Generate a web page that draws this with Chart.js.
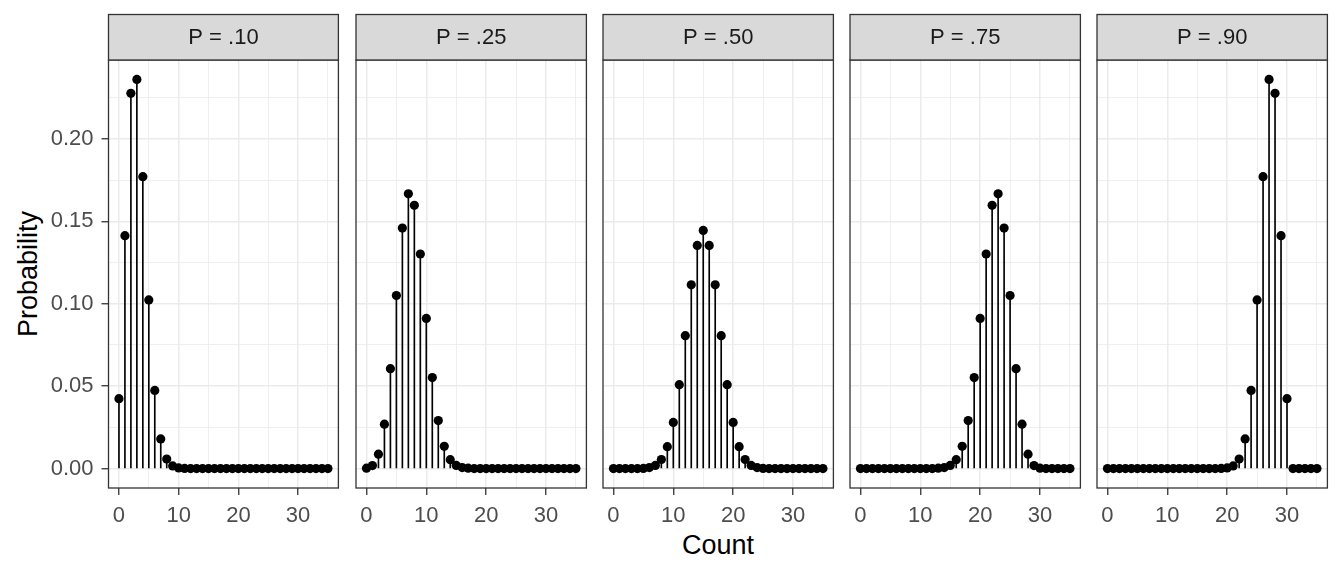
<!DOCTYPE html>
<html>
<head>
<meta charset="utf-8">
<title>Binomial probabilities</title>
<script src="https://cdn.jsdelivr.net/npm/chart.js@4.4.0/dist/chart.umd.min.js"></script>
<style>
  body { margin: 0; background: #fff; width: 1344px; height: 576px; position: relative; overflow: hidden; font-family: "Liberation Sans", Arial, sans-serif; }
  canvas { position: absolute; top: 0; }
  .title { position: absolute; color: #000; font-size: 27px; white-space: nowrap; }
  #ytitle { left: 28px; top: 274px; transform: translate(-50%, -50%) rotate(-90deg); }
  #xtitle { left: 718px; top: 545px; transform: translate(-50%, -50%); }
</style>
</head>
<body>
<div class="title" id="ytitle">Probability</div>
<div class="title" id="xtitle">Count</div>

<script>
// Count values on the x axis (0 .. 35)
const counts = [0,1,2,3,4,5,6,7,8,9,10,11,12,13,14,15,16,17,18,19,20,21,22,23,24,25,26,27,28,29,30,31,32,33,34,35];

// Facet labels
const panelLabels = ["P = .10", "P = .25", "P = .50", "P = .75", "P = .90"];

// Probabilities
const probP10 = [0.0424,0.1413,0.2277,0.2361,0.1771,0.1023,0.0474,0.0180,0.0058,0.0016,0.0004,0.0001,0,0,0,0,0,0,0,0,0,0,0,0,0,0,0,0,0,0,0,0,0,0,0,0];
const probP25 = [0.0002,0.0018,0.0087,0.0269,0.0606,0.1050,0.1459,0.1667,0.1597,0.1302,0.0911,0.0552,0.0291,0.0135,0.0054,0.0019,0.0006,0.0002,0,0,0,0,0,0,0,0,0,0,0,0,0,0,0,0,0,0];
const probP50 = [0,0,0,0,0,0.0001,0.0006,0.0019,0.0055,0.0133,0.0280,0.0509,0.0806,0.1115,0.1354,0.1445,0.1354,0.1115,0.0806,0.0509,0.0280,0.0133,0.0055,0.0019,0.0006,0.0001,0,0,0,0,0,0,0,0,0,0];
const probP75 = [0,0,0,0,0,0,0,0,0,0,0,0,0,0.0002,0.0006,0.0019,0.0054,0.0135,0.0291,0.0552,0.0911,0.1302,0.1597,0.1667,0.1459,0.1050,0.0606,0.0269,0.0087,0.0018,0.0002,0,0,0,0,0];
const probP90 = [0,0,0,0,0,0,0,0,0,0,0,0,0,0,0,0,0,0,0,0.0001,0.0004,0.0016,0.0058,0.0180,0.0474,0.1023,0.1771,0.2361,0.2277,0.1413,0.0424,0,0,0,0,0];

// Axis tick labels
const xTickLabels = [0, 10, 20, 30];
const yTickLabels = [0.00, 0.05, 0.10, 0.15, 0.20];

const panelSeries = [probP10, probP25, probP50, probP75, probP90];

// Layout of the facet panels (pixels)
const panelLefts = [108.5, 355.7, 602.7, 849.7, 1096.7];
const panelWidth = 231.5;
const plotTop = 60;
const plotBottom = 488;
const stripTop = 14.5;
const fontFamily = "'Liberation Sans', Arial, sans-serif";

const isMajorX = (v) => xTickLabels.includes(Math.round(v * 100) / 100);
const isMajorY = (v) => yTickLabels.some(t => Math.abs(t - v) < 1e-6);
const tickVal = (c) => (c && c.tick ? c.tick.value : NaN);

// Draws the panel border and the grey strip with the facet label
const facetPlugin = {
  id: "facet",
  afterDraw(chart, args, opts) {
    const { ctx, chartArea: a } = chart;
    ctx.save();
    ctx.strokeStyle = "#333333";
    ctx.lineWidth = 1.3;
    ctx.strokeRect(a.left, a.top, a.right - a.left, a.bottom - a.top);

    ctx.fillStyle = "#D9D9D9";
    ctx.fillRect(a.left, stripTop, a.right - a.left, a.top - stripTop);
    ctx.strokeRect(a.left, stripTop, a.right - a.left, a.top - stripTop);

    ctx.fillStyle = "#1A1A1A";
    ctx.font = "22px " + fontFamily;
    ctx.textAlign = "center";
    ctx.textBaseline = "middle";
    ctx.fillText(opts.label, (a.left + a.right) / 2, (stripTop + a.top) / 2 + 1);
    ctx.restore();
  }
};

panelSeries.forEach((series, i) => {
  const first = i === 0;
  // left margin inside the canvas: the y axis for the first panel, room for the "0" label otherwise
  const axisW = first ? panelLefts[0] : 12;
  const canvas = document.createElement("canvas");
  canvas.width = Math.ceil(axisW + panelWidth + 3);
  canvas.height = 576;
  canvas.style.left = (panelLefts[i] - axisW) + "px";
  document.body.appendChild(canvas);

  const points = series.map((v, k) => ({ x: counts[k], y: v }));

  new Chart(canvas.getContext("2d"), {
    data: {
      datasets: [
        {
          type: "bar",
          data: points,
          backgroundColor: "#000",
          barThickness: 1,
          grouped: false,
          order: 2
        },
        {
          type: "scatter",
          data: points,
          backgroundColor: "#000",
          borderWidth: 0,
          pointRadius: 4.6,
          order: 1
        }
      ]
    },
    options: {
      responsive: false,
      animation: false,
      events: [],
      layout: {
        padding: { top: plotTop, right: 3, bottom: 576 - plotBottom - 60, left: first ? 0 : axisW }
      },
      plugins: {
        legend: { display: false },
        tooltip: { enabled: false },
        facet: { label: panelLabels[i] }
      },
      scales: {
        x: {
          type: "linear",
          min: -1.75,
          max: 36.75,
          offset: false,
          afterFit: (scale) => { scale.height = 60; },
          border: { display: false },
          grid: {
            offset: false,
            color: "#EBEBEB",
            lineWidth: (c) => isMajorX(tickVal(c)) ? 1.5 : 0.8,
            tickColor: (c) => isMajorX(tickVal(c)) ? "#333333" : "rgba(0,0,0,0)",
            tickWidth: 1.3,
            tickLength: 7
          },
          ticks: {
            stepSize: 5,
            includeBounds: false,
            autoSkip: false,
            maxRotation: 0,
            padding: 8,
            color: "#4D4D4D",
            font: { size: 22, family: fontFamily },
            callback: (v) => isMajorX(v) ? String(v) : ""
          }
        },
        y: {
          type: "linear",
          min: -0.0118,
          max: 0.2479,
          afterFit: (scale) => { scale.width = first ? axisW : 0; },
          border: { display: false },
          grid: {
            color: "#EBEBEB",
            lineWidth: (c) => isMajorY(tickVal(c)) ? 1.5 : 0.8,
            tickColor: (c) => isMajorY(tickVal(c)) ? "#333333" : "rgba(0,0,0,0)",
            tickWidth: 1.3,
            tickLength: 7,
            drawTicks: first
          },
          ticks: {
            display: first,
            stepSize: 0.025,
            includeBounds: false,
            autoSkip: false,
            padding: 8,
            color: "#4D4D4D",
            font: { size: 22, family: fontFamily },
            callback: (v) => isMajorY(v) ? v.toFixed(2) : ""
          }
        }
      }
    },
    plugins: [facetPlugin]
  });
});
</script>
</body>
</html>
